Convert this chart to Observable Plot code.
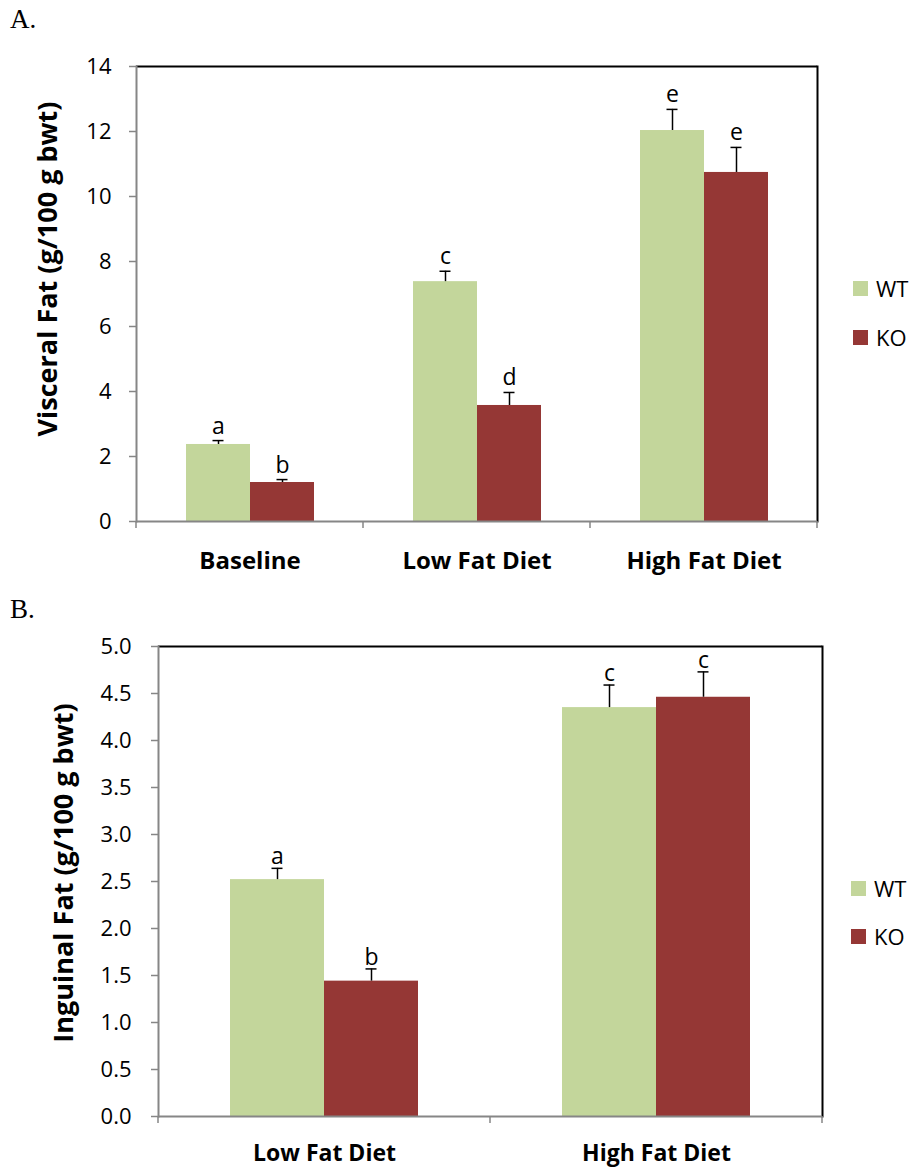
<!DOCTYPE html>
<html><head><meta charset="utf-8">
<script src="https://cdn.jsdelivr.net/npm/d3@7"></script>
<script src="https://cdn.jsdelivr.net/npm/@observablehq/plot@0.6"></script>
<style>
body{margin:0;background:#fff;}
#wrap{position:relative;width:914px;height:1169px;font-family:"Open Sans",sans-serif;overflow:hidden;background:#fff;color:#000;}
.panel{position:absolute;left:0;}
.plabel{position:absolute;font-family:"Liberation Serif",serif;font-size:27px;line-height:1;}
.ytitle{position:absolute;transform:translate(-50%,-50%) rotate(-90deg);font-weight:bold;font-size:27px;white-space:nowrap;line-height:1;}
.item{position:absolute;display:flex;align-items:center;white-space:nowrap;font-size:22px;line-height:1;}
.sw{width:15px;height:15px;margin-right:8px;}
</style></head><body><div id="wrap"></div>
<script>
// ---------- data ----------
const groups = ["WT", "KO"];
const groupColors = ["#C3D69B", "#953735"];

// Panel A: Visceral fat
const catsA = ["Baseline", "Low Fat Diet", "High Fat Diet"];
const wtA = [2.37, 7.38, 12.03];
const wtErrA = [0.12, 0.32, 0.65];
const koA = [1.20, 3.57, 10.74];
const koErrA = [0.09, 0.40, 0.77];
const wtLettersA = ["a", "c", "e"];
const koLettersA = ["b", "d", "e"];
const ticksA = [0, 2, 4, 6, 8, 10, 12, 14];

// Panel B: Inguinal fat
const catsB = ["Low Fat Diet", "High Fat Diet"];
const wtB = [2.52, 4.35];
const wtErrB = [0.12, 0.24];
const koB = [1.44, 4.46];
const koErrB = [0.13, 0.27];
const wtLettersB = ["a", "c"];
const koLettersB = ["b", "c"];
const ticksB = [0, 0.5, 1.0, 1.5, 2.0, 2.5, 3.0, 3.5, 4.0, 4.5, 5.0];

function rowsOf(cats, wt, wtErr, wtLet, ko, koErr, koLet) {
  const rows = [];
  cats.forEach((c, i) => {
    rows.push({cat: c, group: "WT", value: wt[i], top: wt[i] + wtErr[i], letter: wtLet[i]});
    rows.push({cat: c, group: "KO", value: ko[i], top: ko[i] + koErr[i], letter: koLet[i]});
  });
  return rows;
}
const rowsA = rowsOf(catsA, wtA, wtErrA, wtLettersA, koA, koErrA, koLettersA);
const rowsB = rowsOf(catsB, wtB, wtErrB, wtLettersB, koB, koErrB, koLettersB);

const GRAY = "#868686";

function panel({cats, rows, yMax, ticks, tickFormat, height, mt, mb, ml, mr, capInset, letterDy, tickPadding, xPad, xFont}) {
  const plot = Plot.plot({
    width: 914, height,
    marginTop: mt, marginBottom: mb, marginLeft: ml, marginRight: mr,
    style: {fontFamily: '"Open Sans", sans-serif', background: "transparent", overflow: "visible", color: "black"},
    fx: {domain: cats, paddingInner: 0, paddingOuter: 0, label: null},
    x: {domain: groups, paddingInner: 0, paddingOuter: 0.75, axis: null},
    y: {domain: [0, yMax], label: null},
    color: {domain: groups, range: groupColors},
    marks: [
      Plot.barY(rows, {fx: "cat", x: "group", y: "value", fill: "group"}),
      Plot.ruleX(rows, {fx: "cat", x: "group", y1: "value", y2: "top", stroke: "black", strokeWidth: 1.5}),
      Plot.tickY(rows, {fx: "cat", x: "group", y: "top", stroke: "black", strokeWidth: 1.5, insetLeft: capInset, insetRight: capInset}),
      Plot.text(rows, {fx: "cat", x: "group", y: "top", text: "letter", dy: letterDy, lineAnchor: "bottom", fontSize: 23, fill: "black"}),
      Plot.ruleY([yMax], {stroke: "black", strokeWidth: 2}),
      Plot.frame({anchor: "right", stroke: "black", strokeWidth: 2, facetAnchor: "right"}),
      Plot.ruleY([0], {stroke: GRAY, strokeWidth: 2}),
      Plot.frame({anchor: "left", stroke: GRAY, strokeWidth: 2, facetAnchor: "left"}),
      Plot.axisY({ticks, tickFormat, tickSize: 7, tickPadding, stroke: GRAY, strokeWidth: 1.5, fill: "black", fontSize: 22, label: null}),
      Plot.axisFx({anchor: "bottom", tickSize: 0, tickPadding: xPad, fontSize: xFont, fontWeight: "bold", fill: "black", label: null})
    ]
  });
  // category boundary tick marks below the x axis, placed with the plot's own scales
  const fx = plot.scale("fx"), y = plot.scale("y");
  const y0 = y.apply(0);
  const xs = fx.domain.map(d => fx.apply(d));
  xs.push(fx.apply(fx.domain[fx.domain.length - 1]) + fx.bandwidth);
  d3.select(plot).append("g").selectAll("line").data(xs).join("line")
    .attr("x1", d => d).attr("x2", d => d)
    .attr("y1", y0).attr("y2", y0 + 7)
    .attr("stroke", GRAY).attr("stroke-width", 1.5);
  return plot;
}

const wrap = document.getElementById("wrap");

function addDiv(cls, text, style) {
  const d = document.createElement("div");
  d.className = cls;
  if (text != null) d.textContent = text;
  Object.assign(d.style, style);
  wrap.appendChild(d);
  return d;
}

// Panel A
const pA = addDiv("panel", null, {top: "0px"});
pA.appendChild(panel({cats: catsA, rows: rowsA, yMax: 14, ticks: ticksA, tickFormat: d => String(d),
  height: 590, mt: 66, mb: 69, ml: 135, mr: 97, capInset: 26.5, letterDy: -7, tickPadding: 18, xPad: 30, xFont: 24}));

// Panel B
const pB = addDiv("panel", null, {top: "590px"});
pB.appendChild(panel({cats: catsB, rows: rowsB, yMax: 5, ticks: ticksB, tickFormat: d3.format(".1f"),
  height: 579, mt: 56, mb: 53, ml: 157, mr: 92, capInset: 41.5, letterDy: -4, tickPadding: 20, xPad: 28, xFont: 23}));

// Panel letters
addDiv("plabel", "A.", {left: "10px", top: "6px"});
addDiv("plabel", "B.", {left: "10px", top: "596px"});

// Y titles
addDiv("ytitle", "Visceral Fat (g/100 g bwt)", {left: "46px", top: "269px"});
addDiv("ytitle", "Inguinal Fat (g/100 g bwt)", {left: "62px", top: "873px"});

// Legends
function legend(x, ys) {
  groups.forEach((g, i) => {
    const it = addDiv("item", null, {left: x + "px", top: (ys[i] - 11) + "px", height: "22px"});
    const sw = document.createElement("span");
    sw.className = "sw"; sw.style.background = groupColors[i];
    it.appendChild(sw);
    const t = document.createElement("span"); t.textContent = g; it.appendChild(t);
  });
}
legend(853, [288, 337]);
legend(851, [888, 936]);
</script></body></html>
